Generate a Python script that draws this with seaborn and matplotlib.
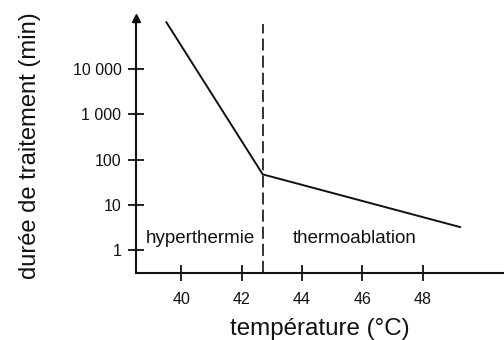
import matplotlib
matplotlib.use("Agg")
import matplotlib.pyplot as plt
import seaborn as sns
import pandas as pd
import numpy as np

# Data
temperature = [39.5, 42.7, 49.25]
duree = [110000, 47, 3.2]
seuil = 42.7
seuil_top = 100000
yticks = [1, 10, 100, 1000, 10000]
yticklabels = ["1", "10", "100", "1 000", "10 000"]
xticks = [40, 42, 44, 46, 48]
regions = ["hyperthermie", "thermoablation"]

sns.set_style("white")
plt.rcParams['font.family'] = ['Liberation Sans', 'DejaVu Sans']

fig = plt.figure(figsize=(5.04, 3.4), dpi=100)
ax = fig.add_axes([0.27, 0.197, 0.73, 0.75])

df = pd.DataFrame({"T": temperature, "D": duree})
sns.lineplot(data=df, x="T", y="D", ax=ax, color="#111111", linewidth=1.4, sort=False)
ax.set_yscale("log")
ax.set_xlim(38.5, 50.7)
ax.set_ylim(10 ** -0.51, 10 ** 5.13)

ax.plot([seuil, seuil], [10 ** -0.51, seuil_top], color="#333333", linestyle=(0, (6.2, 2.6)),
        linewidth=1.4)

ax.set_xticks(xticks)
ax.set_xticklabels([str(x) for x in xticks], fontsize=11.5)
ax.set_yticks(yticks)
ax.set_yticklabels(yticklabels, fontsize=11.5)
ax.minorticks_off()
ax.tick_params(axis="both", which="major", bottom=True, left=True, direction="inout",
               length=11, width=1.3, color="#111111", labelcolor="#111111")
ax.tick_params(axis="x", pad=8)
ax.tick_params(axis="y", pad=5)

for s in ["top", "right"]:
    ax.spines[s].set_visible(False)
for s in ["left", "bottom"]:
    ax.spines[s].set_linewidth(1.5)
    ax.spines[s].set_color("#111111")

# arrow on y axis
ax.plot([0], [1.0], marker="^", markersize=6, color="#111111", transform=ax.transAxes,
        clip_on=False)

ax.text(40.63, 10 ** 0.26, regions[0], fontsize=13.5, ha="center", va="center", color="#111111")
ax.text(45.76, 10 ** 0.26, regions[1], fontsize=13.5, ha="center", va="center", color="#111111")

ax.set_xlabel("température (°C)", fontsize=17.4, color="#111111", labelpad=8)
ax.set_ylabel("durée de traitement (min)", fontsize=17.1, color="#111111", labelpad=23)

fig.savefig("out.png", dpi=100)
